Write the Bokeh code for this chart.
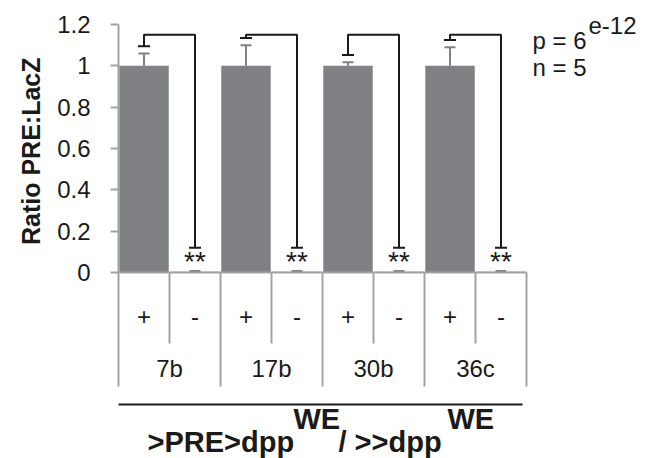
import math
from bokeh.plotting import figure
from bokeh.models import Range1d, FixedTicker, ColumnDataSource, Title
from bokeh.core.properties import value
from bokeh.embed import file_html
from bokeh.resources import INLINE

# ---------------- data ----------------
groups = ["7b", "17b", "30b", "36c"]
signs = ["+", "-"]
plus_means = [1.0, 1.0, 1.0, 1.0]
plus_err = [0.06, 0.10, 0.017, 0.09]
minus_means = [0.004, 0.004, 0.004, 0.004]
minus_err = [0.003, 0.003, 0.003, 0.003]
sig_labels = ["**", "**", "**", "**"]
y_ticks = [0, 0.2, 0.4, 0.6, 0.8, 1.0, 1.2]
y_tick_labels = ["0", "0.2", "0.4", "0.6", "0.8", "1", "1.2"]
y_label = "Ratio PRE:LacZ"
p_base, p_sup = "p = 6", "e-12"
n_text = "n = 5"
title_parts = [">PRE>dpp", "WE", "/ >>dpp", "WE"]

# ---------------- layout constants ----------------
W, H = 645, 458
FL = 116            # frame left (px)
X0 = 118            # px of first category edge
CW = 51.0           # px per category
Y0 = 272.0          # px of y = 0
YS = 206.7          # px per unit
FONT = "Liberation Sans"
BAR = "#808184"
GRID = "#a3a3a3"
INK = "#1a1a1a"

def dx(px):  # pixel x -> data x
    return (px - X0) / CW

def dy(py):  # pixel y -> data y
    return (Y0 - py) / YS

p = figure(width=W, height=H, output_backend="svg", toolbar_location=None,
           x_range=Range1d(dx(FL), dx(W)), y_range=Range1d(dy(H), dy(0)),
           min_border_left=FL, min_border_right=0, min_border_top=0,
           min_border_bottom=0)
p.outline_line_color = None
p.xaxis.visible = False
p.grid.visible = False
p.background_fill_color = "white"

ax = p.yaxis[0]
ax.ticker = FixedTicker(ticks=y_ticks)
ax.major_label_overrides = {t: l for t, l in zip(y_ticks, y_tick_labels)}
ax.axis_line_color = None
ax.major_tick_line_color = GRID
ax.major_tick_line_width = 2
ax.major_tick_in = 2
ax.major_tick_out = 6
ax.minor_tick_line_color = None
ax.major_label_text_font = FONT
ax.major_label_text_font_size = "24px"
ax.major_label_text_color = INK
ax.major_label_standoff = 20

ng = len(groups)
ncat = ng * len(signs)
xs_plus = [2 * i + 0.5 for i in range(ng)]
xs_minus = [2 * i + 1.5 for i in range(ng)]

# bars
src = ColumnDataSource(dict(x=xs_plus + xs_minus, top=plus_means + minus_means))
p.vbar(x="x", top="top", bottom=0, width=0.97, source=src, fill_color=BAR,
       line_color=None)

# error bars (upward only)
cap = 5.5 / CW
err_x = xs_plus + xs_minus
err_lo = plus_means + minus_means
err_hi = [m + e for m, e in zip(plus_means + minus_means, plus_err + minus_err)]
p.segment(x0=err_x, y0=err_lo, x1=err_x, y1=err_hi, line_color=BAR, line_width=2)
p.segment(x0=[x - cap for x in err_x], y0=err_hi, x1=[x + cap for x in err_x],
          y1=err_hi, line_color=BAR, line_width=2)

# y axis line + zero baseline + table lines
ymax = y_ticks[-1]
row_sep_bottom = dy(343)
grp_sep_bottom = dy(386)
p.segment(x0=[0], y0=[ymax], x1=[0], y1=[grp_sep_bottom], line_color=GRID, line_width=2)
p.segment(x0=[0], y0=[0], x1=[ncat], y1=[0], line_color=GRID, line_width=2)
gx = [2 * i for i in range(1, ng + 1)]
p.segment(x0=gx, y0=[0] * ng, x1=gx, y1=[grp_sep_bottom] * ng, line_color=GRID, line_width=2)
ix = [2 * i + 1 for i in range(ng)]
p.segment(x0=ix, y0=[0] * ng, x1=ix, y1=[row_sep_bottom] * ng, line_color=GRID, line_width=2)

# category texts
p.text(x=xs_plus + xs_minus, y=[dy(316)] * ncat,
       text=[signs[0]] * ng + [signs[1]] * ng, text_align="center",
       text_baseline="middle", text_font=value(FONT), text_font_size="24px",
       text_color=INK)
p.text(x=[2 * i + 1 for i in range(ng)], y=[dy(368)] * ng, text=groups,
       text_align="center", text_baseline="middle", text_font=value(FONT),
       text_font_size="24px", text_color=INK)

# significance brackets
top_y = 1.15
right_y = 0.12
left_y = [h + 0.035 for h in err_hi[:ng]]
bcap = 6 / CW
p.multi_line(xs=[[xl, xl, xr, xr] for xl, xr in zip(xs_plus, xs_minus)],
             ys=[[yl, top_y, top_y, right_y] for yl in left_y],
             line_color=INK, line_width=2)
p.segment(x0=[x - bcap for x in xs_plus], y0=left_y, x1=[x + bcap for x in xs_plus],
          y1=left_y, line_color=INK, line_width=2)
p.segment(x0=[x - bcap for x in xs_minus], y0=[right_y] * ng,
          x1=[x + bcap for x in xs_minus], y1=[right_y] * ng, line_color=INK, line_width=2)
p.text(x=xs_minus, y=[right_y - 0.065] * ng, text=sig_labels, text_align="center",
       text_baseline="middle", text_font=value(FONT), text_font_size="28px",
       text_color=INK)

# p / n text
common = dict(text_align="left", text_baseline="middle", text_font=value(FONT),
              text_font_size="24px", text_color=INK)
p.text(x=[dx(532)], y=[dy(40)], text=[p_base], **common)
p.text(x=[dx(588)], y=[dy(25)], text=[p_sup], **common)
p.text(x=[dx(532)], y=[dy(67)], text=[n_text], **common)

# bottom rule and title
p.segment(x0=[0], y0=[dy(404)], x1=[dx(522)], y1=[dy(404)], line_color=INK, line_width=2)
tx = [147, 293, 338, 447]
ty = [441, 418, 441, 418]
for t, xx, yy in zip(title_parts, tx, ty):
    p.text(x=[dx(xx)], y=[dy(yy)], text=[t], text_align="left",
           text_baseline="middle", text_font=value(FONT),
           text_font_size="29px", text_font_style="bold", text_color=INK)

# y axis label as a left-side title (anchored near the top, as in the reference)
p.add_layout(Title(text=y_label, align="right", offset=57, text_font=FONT,
                   text_font_size="25px", text_font_style="bold",
                   text_color=INK, standoff=20), "left")

open("out.html", "w").write(file_html(p, INLINE))
